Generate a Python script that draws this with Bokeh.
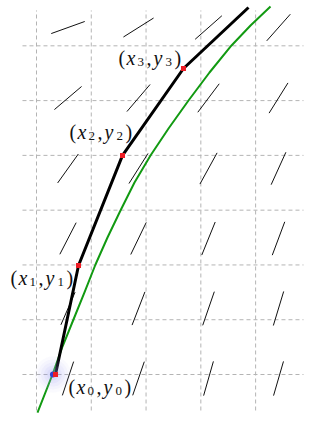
from bokeh.plotting import figure
from bokeh.models import Range1d
from bokeh.core.properties import value
from bokeh.embed import file_html
from bokeh.resources import INLINE
import numpy as np

# ---------------- data (data units: one grid step = 1) ----------------
grid_x = [0, 1, 2, 3, 4]
grid_y = [0, 1, 2, 3, 4, 5, 6]

# slope field sample centres and slopes dy/dx (rows from top to bottom)
field_x = [0.575, 1.862, 3.140, 4.418]
field_y = [6.334, 5.047, 3.761, 2.483, 1.205, -0.073]
field_slope = [
    [0.36, 0.63, 0.88, 1.13],
    [0.85, 1.17, 1.33, 1.60],
    [1.40, 1.58, 1.82, 2.20],
    [1.94, 2.07, 2.46, 2.67],
    [2.30, 2.58, 2.90, 3.30],
    [3.00, 2.90, 3.50, 3.45],
]

# exact solution (green)
exact_x = [0.018, 0.292, 0.475, 0.675, 0.876, 1.077, 1.296, 1.533, 1.789,
           2.081, 2.410, 2.775, 3.158, 3.560, 3.907, 4.272]
exact_y = [-0.694, 0.0, 0.511, 1.004, 1.497, 2.008, 2.501, 2.994, 3.505,
           3.998, 4.491, 5.002, 5.513, 6.006, 6.371, 6.718]

# numerical steps (black polyline) and labelled points
step_x = [0.347, 0.767, 1.570, 2.683, 3.870]
step_y = [0.0, 1.990, 4.000, 5.586, 6.700]
point_idx = ["0", "1", "2", "3"]

start_x = [0.300]
start_y = [0.0]

# ---------------- figure ----------------
U = 54.78          # pixels per unit
OX, OY = 36, 374   # pixel position of the origin
W, H = 321, 421

p = figure(width=W, height=H, output_backend="svg", toolbar_location=None,
           x_range=Range1d(-OX / U, (W - OX) / U),
           y_range=Range1d((OY - H) / U, OY / U),
           min_border=0, outline_line_color=None)
p.axis.visible = False
p.grid.visible = False
p.background_fill_color = "white"
p.border_fill_color = "white"

gx0, gx1 = -0.256, 4.874
gy0, gy1 = -0.657, 6.645
grid_col = "#b4b4b4"
p.segment(x0=grid_x, y0=[gy0] * len(grid_x), x1=grid_x, y1=[gy1] * len(grid_x),
          line_color=grid_col, line_width=1, line_dash="4 3")
p.segment(x0=[gx0] * len(grid_y), y0=grid_y, x1=[gx1] * len(grid_y), y1=grid_y,
          line_color=grid_col, line_width=1, line_dash="4 3")

# slope field segments
half = 0.325
sx0, sy0, sx1, sy1 = [], [], [], []
for j, yc in enumerate(field_y):
    for i, xc in enumerate(field_x):
        m = field_slope[j][i]
        d = half / np.sqrt(1 + m * m)
        sx0.append(xc - d); sy0.append(yc - m * d)
        sx1.append(xc + d); sy1.append(yc + m * d)
p.segment(x0=sx0, y0=sy0, x1=sx1, y1=sy1, line_color="#111111", line_width=1)

# exact solution
p.line(exact_x, exact_y, line_color="#129a12", line_width=2, line_join="round")

# numerical polyline
p.line(step_x, step_y, line_color="black", line_width=3, line_join="round")

# glow + start point
for s, a in [(36, 0.05), (30, 0.06), (24, 0.07), (18, 0.09), (12, 0.11)]:
    p.scatter(start_x, start_y, size=s, fill_color="#9aa0f0", fill_alpha=a,
              line_color=None)
p.scatter(start_x, start_y, size=6, fill_color="#3340d0", line_color=None)

# red points
p.scatter(step_x[:4], step_y[:4], marker="square", size=5,
          fill_color="#ee1c24", line_color=None)

# labels (each built from pieces)
label_off = [(13, 12), (-68, 13), (-53, -23), (-65, -10)]
up_x, up_y, up_t, up_xo, up_yo = [], [], [], [], []
it_x, it_y, it_t, it_xo, it_yo = [], [], [], [], []
sb_x, sb_y, sb_t, sb_xo, sb_yo = [], [], [], [], []
for k, idx in enumerate(point_idx):
    ox, oy = label_off[k]
    px, py = step_x[k], step_y[k]
    for t, dx in [("(", 0), (",", 28), (")", 56)]:
        up_x.append(px); up_y.append(py); up_t.append(t)
        up_xo.append(ox + dx); up_yo.append(oy)
    for t, dx in [("x", 8), ("y", 35)]:
        it_x.append(px); it_y.append(py); it_t.append(t)
        it_xo.append(ox + dx); it_yo.append(oy)
    for dx in [19, 47]:
        sb_x.append(px); sb_y.append(py); sb_t.append(idx)
        sb_xo.append(ox + dx); sb_yo.append(oy + 4)

font = value("serif")
p.text(x=up_x, y=up_y, text=up_t, x_offset=up_xo, y_offset=up_yo,
       text_font=font, text_font_size="20px", text_color="#111111",
       text_baseline="alphabetic", text_align="left")
p.text(x=it_x, y=it_y, text=it_t, x_offset=it_xo, y_offset=it_yo,
       text_font=font, text_font_size="20px", text_font_style="italic",
       text_color="#111111", text_baseline="alphabetic", text_align="left")
p.text(x=sb_x, y=sb_y, text=sb_t, x_offset=sb_xo, y_offset=sb_yo,
       text_font=font, text_font_size="13px", text_color="#111111",
       text_baseline="alphabetic", text_align="left")

open("out.html", "w").write(file_html(p, INLINE))
